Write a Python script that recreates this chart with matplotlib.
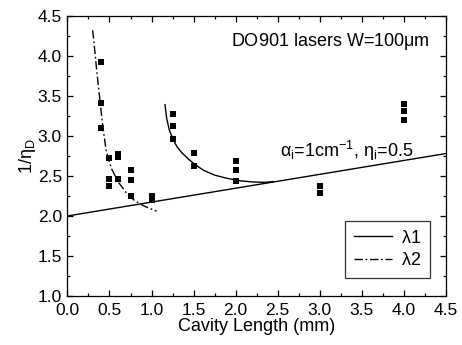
import numpy as np
import matplotlib
matplotlib.use("Agg")
import matplotlib.pyplot as plt
from matplotlib.ticker import MultipleLocator

plt.rcParams['font.family'] = ['Liberation Sans', 'DejaVu Sans']
plt.rcParams['mathtext.fontset'] = 'custom'
plt.rcParams['mathtext.rm'] = 'Liberation Sans'
plt.rcParams['mathtext.it'] = 'Liberation Sans'

# measured points (cavity length in mm, 1/eta_D)
pts_x = [0.4, 0.4, 0.4, 0.5, 0.5, 0.5, 0.6, 0.6, 0.6, 0.75, 0.75, 0.75, 1.0, 1.0,
         1.25, 1.25, 1.25, 1.5, 1.5, 2.0, 2.0, 2.0, 3.0, 3.0, 4.0, 4.0, 4.0]
pts_y = [3.92, 3.41, 3.10, 2.73, 2.46, 2.37, 2.78, 2.74, 2.46, 2.58, 2.45, 2.25, 2.25, 2.20,
         3.28, 3.12, 2.96, 2.79, 2.625, 2.69, 2.575, 2.44, 2.37, 2.29, 3.40, 3.31, 3.20]

# straight line alpha_i=1/cm, eta_i=0.5
line_x = [0.0, 4.5]
line_y = [2.0, 2.78]

# lambda1 fit curve
l1_x = [1.16, 1.18, 1.21, 1.25, 1.30, 1.36, 1.44, 1.52, 1.62, 1.75, 1.90, 2.05, 2.20, 2.35, 2.45]
l1_y = [3.39, 3.22, 3.08, 2.97, 2.87, 2.79, 2.71, 2.64, 2.57, 2.51, 2.47, 2.44, 2.425, 2.42, 2.43]

# lambda2 fit curve
l2_x = [0.30, 0.32, 0.34, 0.36, 0.39, 0.42, 0.46, 0.52, 0.60, 0.70, 0.80, 0.92, 1.06]
l2_y = [4.32, 4.12, 3.90, 3.70, 3.41, 3.12, 2.82, 2.60, 2.43, 2.29, 2.19, 2.12, 2.06]

fs = 13

fig = plt.figure(figsize=(4.62, 3.45), dpi=100)
ax = fig.add_axes([0.146, 0.142, 0.819, 0.812])

ax.plot(line_x, line_y, color='black', lw=1.0)
l1, = ax.plot(l1_x, l1_y, color='black', lw=1.0, label=r'$\lambda$1')
l2, = ax.plot(l2_x, l2_y, color='black', lw=1.0, linestyle=(0, (6, 2, 1.2, 2)), label=r'$\lambda$2')
ax.plot(pts_x, pts_y, 's', color='black', markersize=5, markeredgewidth=0)

ax.set_xlim(0, 4.5)
ax.set_ylim(1.0, 4.5)
ax.xaxis.set_major_locator(MultipleLocator(0.5))
ax.xaxis.set_minor_locator(MultipleLocator(0.25))
ax.yaxis.set_major_locator(MultipleLocator(0.5))
ax.yaxis.set_minor_locator(MultipleLocator(0.25))
ax.tick_params(which='both', direction='in', top=True, right=True, labelsize=12.5)
ax.tick_params(which='major', length=4, width=0.9)
ax.tick_params(which='minor', length=2.5, width=0.9)
ax.tick_params(axis='x', pad=5)
ax.tick_params(axis='y', pad=4)
ax.xaxis.set_major_formatter(plt.FuncFormatter(lambda v, p: f"{v:.1f}"))
ax.yaxis.set_major_formatter(plt.FuncFormatter(lambda v, p: f"{v:.1f}"))
for s in ax.spines.values():
    s.set_linewidth(0.9)

ax.set_xlabel('Cavity Length (mm)', fontsize=fs, labelpad=0)
ax.set_ylabel(r'1/$\eta_D$', fontsize=fs, labelpad=0)

ax.text(4.31, 4.18, r'DO901 lasers W=100$\mu$m', fontsize=fs, ha='right', va='center')
ax.text(3.32, 2.74, r'$\alpha_i$=1cm$^{-1}$, $\eta_i$=0.5', fontsize=fs, ha='center', va='baseline')

leg = ax.legend(handles=[l1, l2], loc='lower right', bbox_to_anchor=(0.958, 0.064),
                borderaxespad=0, fontsize=fs, frameon=True, fancybox=False, handlelength=2.1,
                handletextpad=0.5, borderpad=0.5, labelspacing=0.3)
leg.get_frame().set_edgecolor('black')
leg.get_frame().set_linewidth(0.9)

fig.savefig('out.png', dpi=100)
